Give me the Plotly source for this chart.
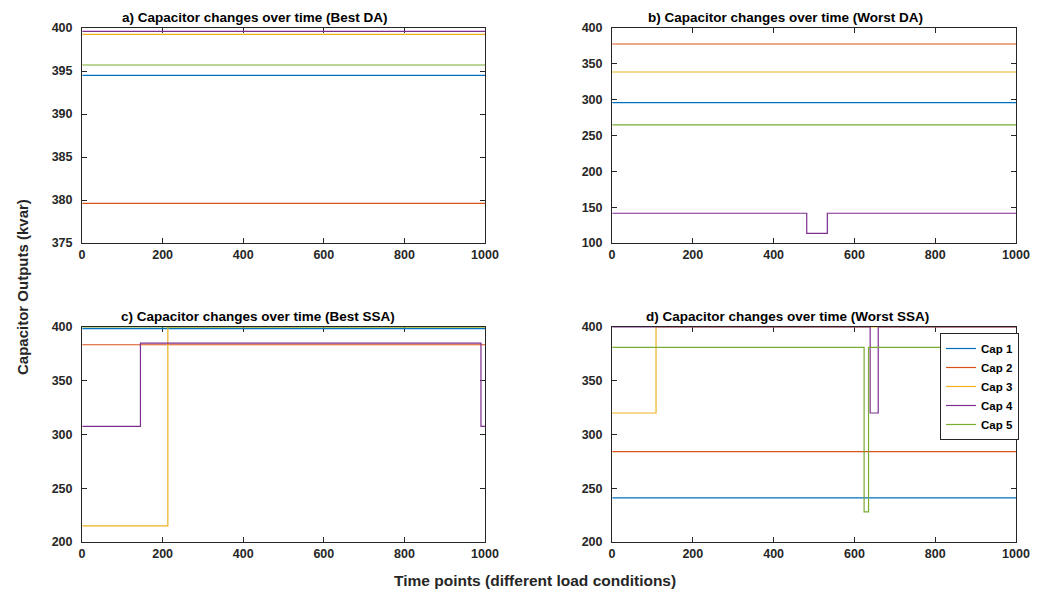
import plotly.graph_objects as go

# ---------------- data ----------------
cap_names = ["Cap 1", "Cap 2", "Cap 3", "Cap 4", "Cap 5"]
cap_colors = ["#0072BD", "#D95319", "#EDB120", "#7E2F8E", "#77AC30"]

# Step series given as change points (time, value)
# a) Best DA
a_x = [[1, 1000]] * 5
a_y = [[394.5, 394.5], [379.6, 379.6], [399.25, 399.25], [399.6, 399.6], [395.7, 395.7]]
# b) Worst DA
b_x = [[1, 1000], [1, 1000], [1, 1000], [1, 482, 533, 1000], [1, 1000]]
b_y = [[295.8, 295.8], [377.7, 377.7], [338.6, 338.6], [141.5, 113.5, 141.5, 141.5], [264.7, 264.7]]
# c) Best SSA
c_x = [[1, 1000], [1, 1000], [1, 213, 1000], [1, 145, 990, 1000], [1, 1000]]
c_y = [[398.4, 398.4], [383.5, 383.5], [215, 400, 400], [307.5, 385, 307.5, 307.5], [400, 400]]
# d) Worst SSA
d_x = [[1, 1000], [1, 1000], [1, 109, 1000], [1, 639, 659, 1000], [1, 624, 635, 1000]]
d_y = [[241, 241], [284, 284], [320, 400, 400], [400, 320, 400, 400], [381, 228, 381, 381]]

titles = ["a) Capacitor changes over time (Best DA)",
          "b) Capacitor changes over time (Worst DA)",
          "c) Capacitor changes over time (Best SSA)",
          "d) Capacitor changes over time (Worst SSA)"]
x_ticks = [0, 200, 400, 600, 800, 1000]
y_ranges = [[375, 400], [100, 400], [200, 400], [200, 400]]
y_dticks = [5, 50, 50, 50]
x_label = "Time points (different load conditions)"
y_label = "Capacitor Outputs (kvar)"

# ---------------- figure ----------------
OFF = 8                      # page body margin
W, H = 1039 - OFF, 592 - OFF
FONT = "Liberation Sans, Arial, Helvetica, sans-serif"
AX = "#262626"

def fx(px):
    return (px - OFF) / W

def fy(py):
    return 1 - (py - OFF) / H

fig = go.Figure()
panels = [(a_x, a_y), (b_x, b_y), (c_x, c_y), (d_x, d_y)]
for p, (px, py) in enumerate(panels):
    ax_id = "" if p == 0 else str(p + 1)
    for i in range(5):
        fig.add_trace(go.Scatter(
            x=px[i], y=py[i], mode="lines", line_shape="hv",
            line=dict(color=cap_colors[i], width=1.2),
            name=cap_names[i], showlegend=(p == 3),
            xaxis="x" + ax_id, yaxis="y" + ax_id, hoverinfo="skip"))

# screenshot-pixel geometry of plot areas
boxes = [(82, 485, 28, 243), (612, 1016, 28, 243),
         (82, 485, 327, 542), (612, 1016, 327, 542)]
title_cx = [255, 785, 258, 787]
title_cy = [17, 17, 317, 317]

layout = dict(width=W, height=H,
              margin=dict(l=0, r=0, t=0, b=0, pad=0, autoexpand=False),
              paper_bgcolor="white", plot_bgcolor="white",
              font=dict(family=FONT, color=AX))
for p, (x0, x1, y0, y1) in enumerate(boxes):
    sfx = "" if p == 0 else str(p + 1)
    common = dict(showline=True, linecolor=AX, linewidth=1, mirror="ticks",
                  ticks="inside", ticklen=5, tickcolor=AX, showgrid=False,
                  zeroline=False, layer="below traces", automargin=False,
                  tickfont=dict(family=FONT, size=12.5, color=AX, weight="bold"))
    layout["xaxis" + sfx] = dict(common, domain=[fx(x0), fx(x1)], range=[0, 1000],
                                 tickvals=x_ticks, anchor="y" + sfx)
    layout["yaxis" + sfx] = dict(common, domain=[fy(y1), fy(y0)],
                                 range=y_ranges[p], dtick=y_dticks[p],
                                 anchor="x" + sfx, ticklabelstandoff=6)
fig.update_layout(**layout)

ann = []
for p in range(4):
    ann.append(dict(text=titles[p], x=fx(title_cx[p]), y=fy(title_cy[p]),
                    xref="paper", yref="paper", showarrow=False,
                    xanchor="center", yanchor="middle",
                    font=dict(family=FONT, size=13.5, color="black", weight="bold")))
ann.append(dict(text=x_label, x=fx(535), y=fy(580), xref="paper", yref="paper",
                showarrow=False, xanchor="center", yanchor="middle",
                font=dict(family=FONT, size=15.5, color=AX, weight="bold")))
ann.append(dict(text=y_label, x=fx(22), y=fy(287), xref="paper", yref="paper",
                showarrow=False, xanchor="center", yanchor="middle", textangle=-90,
                font=dict(family=FONT, size=15, color=AX, weight="bold")))
fig.update_layout(annotations=ann)

fig.update_layout(legend=dict(
    x=fx(940), y=fy(333), xanchor="left", yanchor="top",
    bgcolor="white", bordercolor=AX, borderwidth=1,
    font=dict(family=FONT, size=11.5, color="black", weight="bold"),
    itemwidth=30, tracegroupgap=0))

fig.write_html("out.html")
